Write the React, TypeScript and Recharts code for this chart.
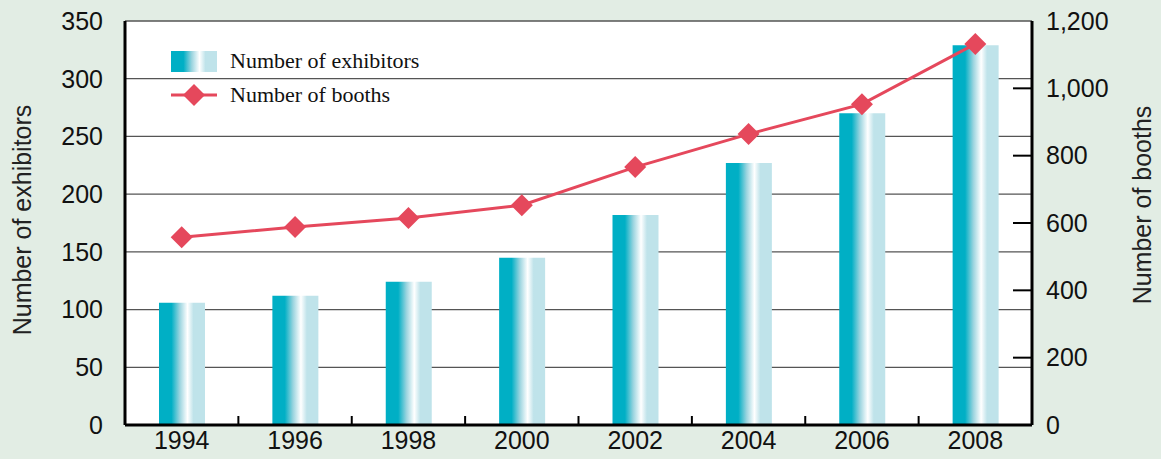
import React from 'react';
import {
  ComposedChart,
  Bar,
  Line,
  XAxis,
  YAxis,
  CartesianGrid,
} from 'recharts';

const years = ['1994', '1996', '1998', '2000', '2002', '2004', '2006', '2008'];
const exhibitors = [106, 112, 124, 145, 182, 227, 270, 329];
const booths = [558, 588, 615, 653, 766, 864, 953, 1132];
const leftTicks = [0, 50, 100, 150, 200, 250, 300, 350];
const rightTicks = [0, 200, 400, 600, 800, 1000, 1200];

const W = 1161;
const H = 459;
const LEFT_W = 125;
const RIGHT_W = 129;
const TOP = 21;
const BOTTOM_H = 34;

const TEAL = '#00AFC5';
const LIGHT = '#BFE3EA';
const RED = '#E5485C';
const BG = '#E2EDE4';
const TICK_FONT = 'Liberation Sans, Arial, sans-serif';
const FS = 25;

const data = years.map((year, i) => ({
  year,
  exhibitors: exhibitors[i],
  booths: booths[i],
}));

const GradStops = () => (
  <>
    <stop offset="0%" stopColor={TEAL} />
    <stop offset="27%" stopColor={TEAL} />
    <stop offset="45%" stopColor="#9AD4DF" />
    <stop offset="62%" stopColor="#FFFFFF" />
    <stop offset="75%" stopColor={LIGHT} />
    <stop offset="100%" stopColor={LIGHT} />
  </>
);

const Diamond = (props: any) => {
  const { cx, cy } = props;
  if (cx == null || cy == null) return null;
  const r = 11;
  return (
    <polygon
      points={`${cx},${cy - r} ${cx + r},${cy} ${cx},${cy + r} ${cx - r},${cy}`}
      fill={RED}
    />
  );
};

// category ticks with inward marks on the boundaries between years
const YearTick = (props: any) => {
  const { x, y, payload } = props;
  const band = (W - LEFT_W - RIGHT_W) / years.length;
  const axisY = y - 5;
  return (
    <g>
      <line x1={x + band / 2} x2={x + band / 2} y1={axisY} y2={axisY - 9} stroke="#000" strokeWidth={2} />
      <text x={x} y={y} dy="0.76em" textAnchor="middle" fontSize={FS} fontFamily={TICK_FONT} fill="#111">
        {payload.value}
      </text>
    </g>
  );
};

// right axis: label plus an inward tick mark
const BoothTick = (props: any) => {
  const { x, y, payload } = props;
  const axisX = x - 14;
  const showMark = payload.value !== 0 && payload.value !== 1200;
  return (
    <g>
      {showMark && (
        <line x1={axisX - 19} x2={axisX} y1={y} y2={y} stroke="#000" strokeWidth={2} />
      )}
      <text x={x} y={y} dy="0.35em" textAnchor="start" fontSize={FS} fontFamily={TICK_FONT} fill="#111">
        {payload.value.toLocaleString('en-US')}
      </text>
    </g>
  );
};

const SideLabel = ({ viewBox, text, dx, dy, angle }: any) => {
  const x = viewBox.x + dx;
  const y = viewBox.y + viewBox.height / 2 + dy;
  return (
    <text
      x={x}
      y={y}
      transform={`rotate(${angle}, ${x}, ${y})`}
      textAnchor="middle"
      dominantBaseline="central"
      fontSize={FS}
      fontFamily={TICK_FONT}
      fill="#222"
    >
      {text}
    </text>
  );
};

const LegendBox = () => (
  <div
    style={{
      position: 'absolute',
      left: 171,
      top: 44,
      fontFamily: 'Liberation Serif, Times New Roman, serif',
      fontSize: 22,
      color: '#111',
    }}
  >
    <div style={{ display: 'flex', alignItems: 'center', height: 34 }}>
      <svg width={46} height={21} style={{ marginRight: 13 }}>
        <defs>
          <linearGradient id="legendGrad" x1="0" y1="0" x2="1" y2="0">
            <GradStops />
          </linearGradient>
        </defs>
        <rect width={46} height={21} fill="url(#legendGrad)" />
      </svg>
      <span>Number of exhibitors</span>
    </div>
    <div style={{ display: 'flex', alignItems: 'center', height: 34 }}>
      <svg width={46} height={24} style={{ marginRight: 13 }}>
        <line x1={0} x2={46} y1={12} y2={12} stroke={RED} strokeWidth={3} />
        <polygon points="23,1 34,12 23,23 12,12" fill={RED} />
      </svg>
      <span>Number of booths</span>
    </div>
  </div>
);

export default function App() {
  return (
    <div style={{ position: 'absolute', left: 0, top: 0, width: W, height: H, background: BG }}>
      <ComposedChart
        width={W}
        height={H}
        data={data}
        margin={{ top: TOP, right: 0, bottom: 0, left: 0 }}
      >
        <defs>
          <linearGradient id="barGrad" x1="0" y1="0" x2="1" y2="0">
            <GradStops />
          </linearGradient>
        </defs>
        <CartesianGrid yAxisId="left" vertical={false} fill="#fff" stroke="#555" strokeWidth={1.3} />
        <XAxis
          dataKey="year"
          height={BOTTOM_H}
          axisLine={{ stroke: '#000', strokeWidth: 3 }}
          tickLine={false}
          tickSize={0}
          tickMargin={5}
          tick={<YearTick />}
          interval={0}
        />
        <XAxis
          xAxisId="top"
          dataKey="year"
          orientation="top"
          height={0}
          tick={false}
          tickLine={false}
          axisLine={{ stroke: '#000', strokeWidth: 3 }}
        />
        <YAxis
          yAxisId="left"
          width={LEFT_W}
          domain={[0, 350]}
          ticks={leftTicks}
          interval={0}
          axisLine={{ stroke: '#000', strokeWidth: 3 }}
          tickLine={false}
          tickMargin={16}
          tick={{ fontSize: FS, fontFamily: TICK_FONT, fill: '#111' }}
          label={{ content: (p: any) => <SideLabel {...p} text="Number of exhibitors" dx={22} dy={-3} angle={-90} /> }}
        />
        <YAxis
          yAxisId="right"
          orientation="right"
          width={RIGHT_W}
          domain={[0, 1200]}
          ticks={rightTicks}
          interval={0}
          axisLine={{ stroke: '#000', strokeWidth: 3 }}
          tickLine={false}
          tickSize={0}
          tickMargin={14}
          tick={<BoothTick />}
          label={{ content: (p: any) => <SideLabel {...p} text="Number of booths" dx={110} dy={-18} angle={-90} /> }}
        />
        <Bar
          yAxisId="left"
          dataKey="exhibitors"
          barSize={46}
          fill="url(#barGrad)"
          isAnimationActive={false}
        />
        <Line
          yAxisId="right"
          dataKey="booths"
          stroke={RED}
          strokeWidth={3}
          dot={<Diamond />}
          activeDot={false}
          isAnimationActive={false}
        />
      </ComposedChart>
      <LegendBox />
    </div>
  );
}
